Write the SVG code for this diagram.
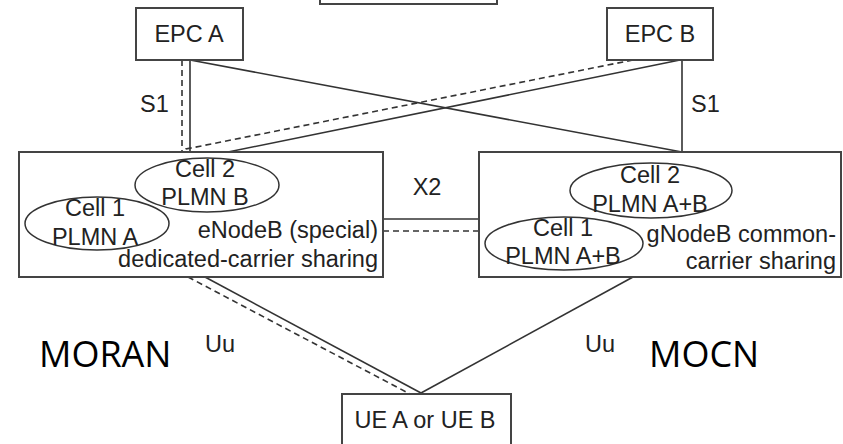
<svg xmlns="http://www.w3.org/2000/svg" width="843" height="444" viewBox="0 0 843 444">
<style>
.box{fill:#fff;stroke:#444;stroke-width:2}
.ell{fill:none;stroke:#333;stroke-width:1.5}
.t{font-family:"Liberation Sans",Arial,sans-serif;font-size:23.5px;fill:#222}
.big{font-family:"Open Sans","Liberation Sans",sans-serif;font-size:36px;fill:#000}
.ln{stroke:#333;stroke-width:1.6;fill:none}
.dl{stroke:#333;stroke-width:1.6;fill:none;stroke-dasharray:6 4}
</style>
<rect width="843" height="444" fill="#fff"/>
<g id="connectors">
<line class="ln" x1="190" y1="60" x2="190" y2="152"/>
<line class="dl" x1="182" y1="60" x2="182" y2="152" stroke-dasharray="5 3"/>
<line class="ln" x1="190" y1="60" x2="682" y2="152"/>
<line class="ln" x1="682" y1="60" x2="682" y2="152"/>
<line class="ln" x1="680" y1="60" x2="228" y2="152"/>
<polyline class="dl" points="633,60 186,149 186,152"/>
<line class="ln" x1="383" y1="219" x2="479" y2="219"/>
<line class="dl" x1="383" y1="231" x2="479" y2="231"/>
<line class="ln" x1="205" y1="277" x2="421" y2="393"/>
<line class="dl" x1="188" y1="277" x2="410" y2="394" stroke-dasharray="9 5"/>
<line class="ln" x1="633" y1="277" x2="421" y2="393"/>
<text class="t" x="140" y="112">S1</text>
<text class="t" x="691" y="112">S1</text>
<text class="t" x="427" y="195" text-anchor="middle">X2</text>
<text class="t" x="205" y="352" font-size="21">Uu</text>
<text class="t" x="585" y="352" font-size="21">Uu</text>
</g>
<g id="top">
<rect class="box" x="320" y="-10" width="177" height="14"/>
</g>
<g id="epcA">
<rect class="box" x="136" y="8" width="107" height="52"/>
<text class="t" x="189" y="42" text-anchor="middle">EPC A</text>
</g>
<g id="epcB">
<rect class="box" x="607" y="8" width="106" height="52"/>
<text class="t" x="660" y="42" text-anchor="middle">EPC B</text>
</g>
<g id="enodeb">
<rect class="box" x="19" y="152" width="364" height="125"/>
<ellipse class="ell" cx="207" cy="185" rx="72" ry="27"/>
<ellipse class="ell" cx="97" cy="223.5" rx="72" ry="26.5"/>
<text class="t" x="205" y="177" text-anchor="middle">Cell 2</text>
<text class="t" x="205" y="205" text-anchor="middle">PLMN B</text>
<text class="t" x="95" y="216" text-anchor="middle">Cell 1</text>
<text class="t" x="95" y="245" text-anchor="middle">PLMN A</text>
<text class="t" x="378" y="238" text-anchor="end">eNodeB (special)</text>
<text class="t" x="378" y="267" text-anchor="end">dedicated-carrier sharing</text>
</g>
<g id="gnodeb">
<rect class="box" x="479" y="152" width="362" height="125"/>
<ellipse class="ell" cx="651" cy="190.5" rx="81" ry="27.5"/>
<ellipse class="ell" cx="564" cy="243.5" rx="79" ry="26.5"/>
<text class="t" x="650" y="183" text-anchor="middle">Cell 2</text>
<text class="t" x="650" y="212" text-anchor="middle">PLMN A+B</text>
<text class="t" x="563" y="236" text-anchor="middle">Cell 1</text>
<text class="t" x="563" y="264" text-anchor="middle">PLMN A+B</text>
<text class="t" x="836" y="242" text-anchor="end">gNodeB common-</text>
<text class="t" x="836" y="269" text-anchor="end">carrier sharing</text>
</g>
<g id="ue">
<rect class="box" x="342" y="394" width="169" height="60"/>
<text class="t" x="425" y="428" text-anchor="middle">UE A or UE B</text>
</g>
<g id="labels">
<text class="big" x="39" y="367">MORAN</text>
<text class="big" x="649" y="367">MOCN</text>
</g>
</svg>
